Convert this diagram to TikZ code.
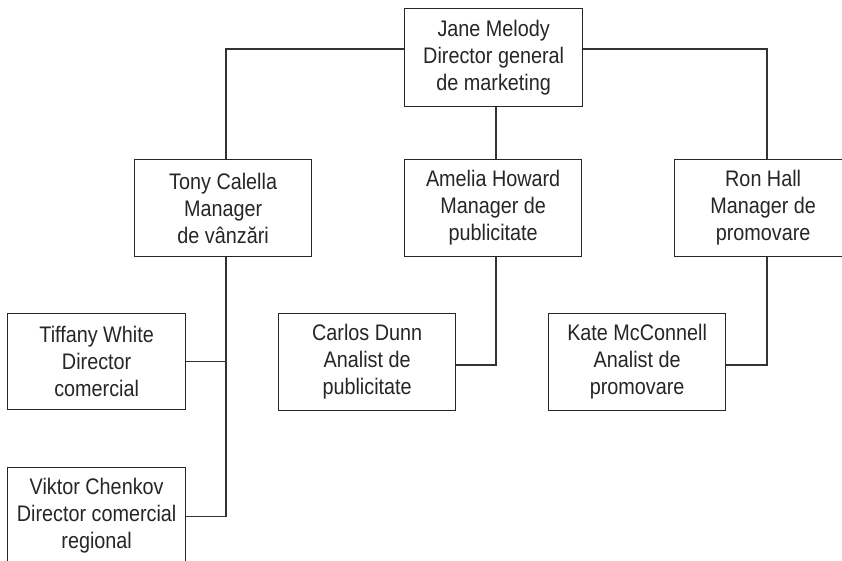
\documentclass[tikz,border=0pt]{standalone}
\usepackage{fontspec}
\setmainfont[FakeStretch=0.88]{Liberation Sans}
\begin{document}
\begin{tikzpicture}[x=1pt,y=-1pt,
  person/.style={draw=black!85, line width=1.3pt, fill=white, anchor=north west,
    minimum width=177pt, minimum height=97pt, inner sep=0pt, align=center,
    text=black!85, font=\fontsize{22.5}{27}\selectfont},
  link/.style={draw=black!80, line width=1.3pt}]
\useasboundingbox (0,0) rectangle (842,560);
\clip (0,0) rectangle (842,560);

% boxes
\node[person, minimum width=178pt, minimum height=98pt] (jane) at (404,8) {Jane Melody\\Director general\\de marketing};
\node[person] (tony)   at (134,159) {Tony Calella\\Manager\\de vânzări};
\node[person] (amelia) at (404,159) {Amelia Howard\\Manager de\\publicitate};
\node[person] (ron)    at (674,159) {Ron Hall\\Manager de\\promovare};
\node[person, minimum width=178pt, minimum height=96pt] (tiffany) at (7,313) {Tiffany White\\Director\\comercial};
\node[person, minimum width=178pt] (viktor) at (7,467) {Viktor Chenkov\\Director comercial\\regional};
\node[person] (carlos) at (278,313) {Carlos Dunn\\Analist de\\publicitate};
\node[person] (kate)   at (548,313) {Kate McConnell\\Analist de\\promovare};

% branch points
\coordinate (topbar) at (0,49);
\coordinate (analystrow) at (0,365);
\coordinate (salesx) at (226,0);
\coordinate (advx) at (496,0);
\coordinate (promx) at (767,0);

% connectors
\draw[link] (jane.west |- topbar) -- (salesx |- topbar) -- (salesx |- tony.north);
\draw[link] (jane.east |- topbar) -- (promx |- topbar) -- (promx |- ron.north);
\draw[link] (advx |- jane.south) -- (advx |- amelia.north);
\draw[link] (salesx |- tony.south) -- (salesx |- viktor.east) -- (viktor.east);
\draw[link] (tiffany.east) -- (salesx |- tiffany.east);
\draw[link] (advx |- amelia.south) -- (advx |- analystrow) -- (carlos.east |- analystrow);
\draw[link] (promx |- ron.south) -- (promx |- analystrow) -- (kate.east |- analystrow);
\end{tikzpicture}
\end{document}
